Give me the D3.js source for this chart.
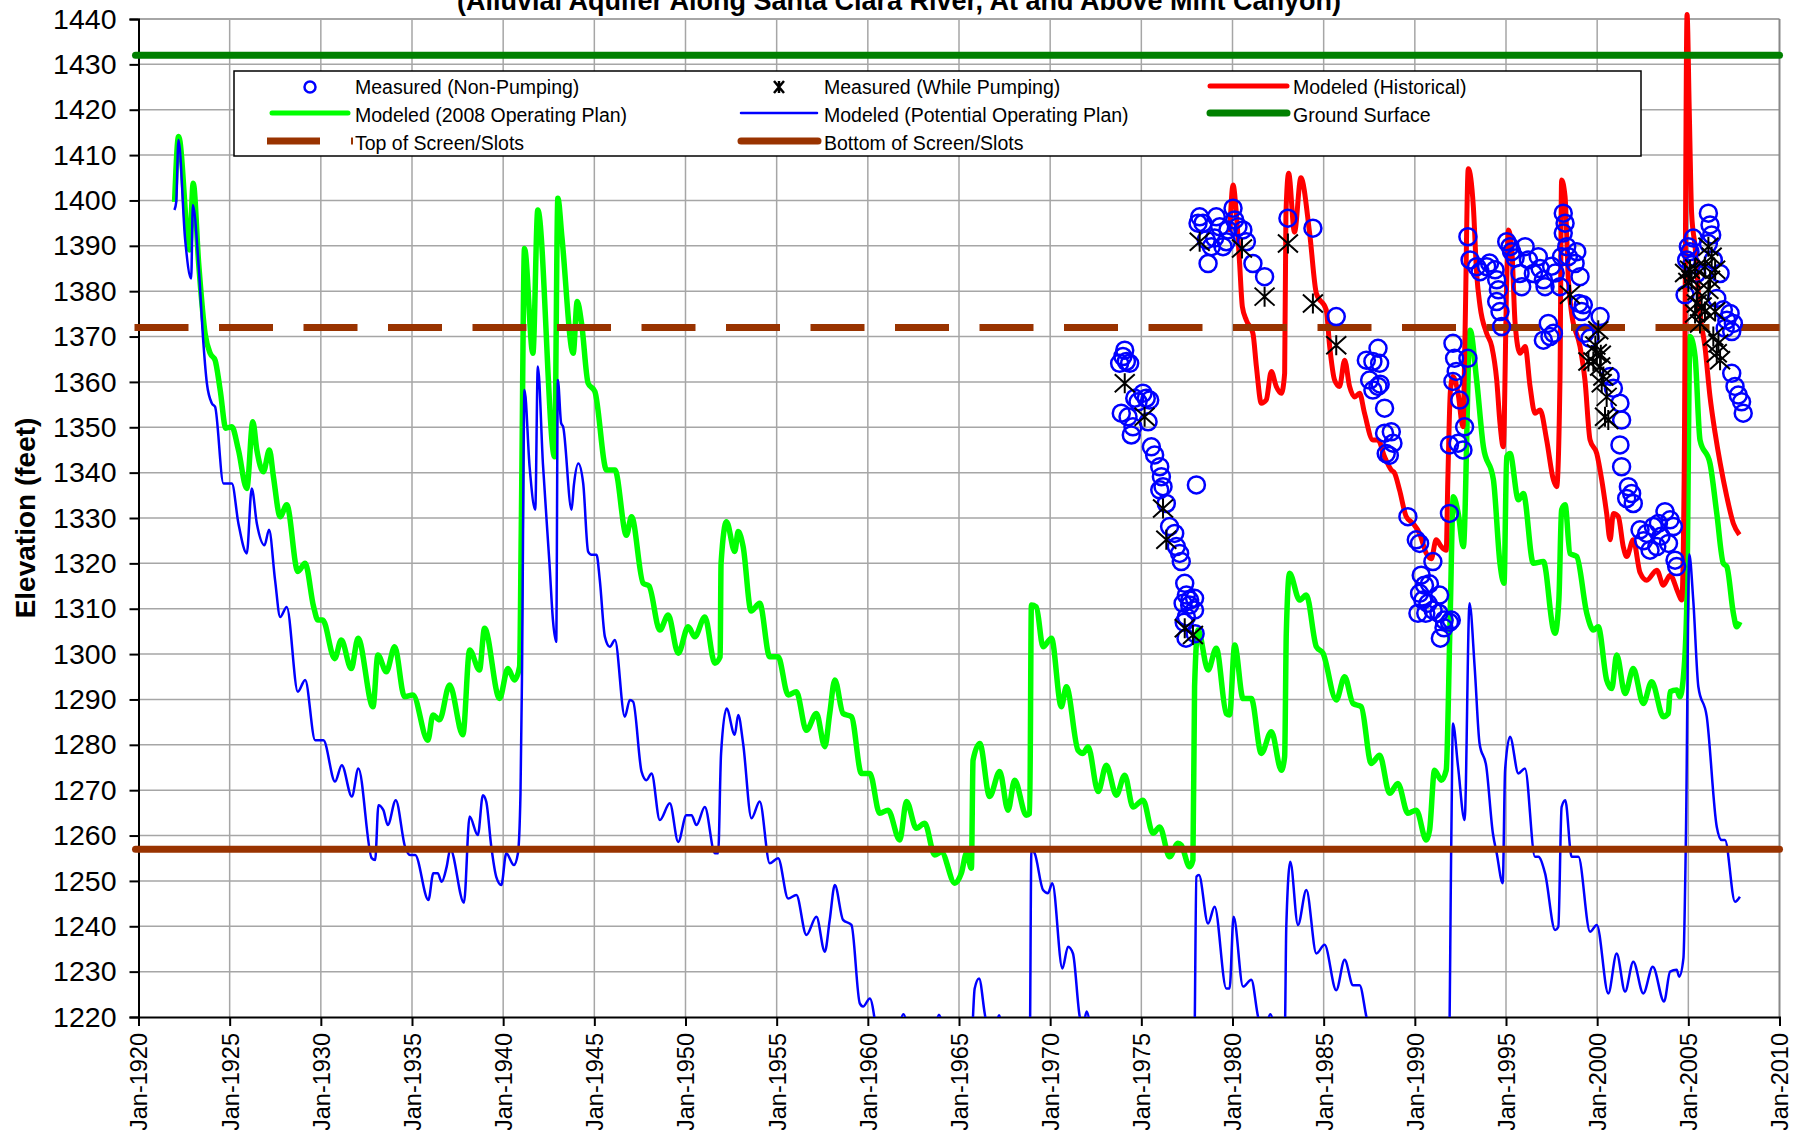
<!DOCTYPE html>
<html lang="en">
<head>
    <meta charset="UTF-8">
    <title>Elevation</title>
    <style>
        body { margin: 0; background: #fff; }
        text { font-family: Arial, "Liberation Sans", sans-serif; fill: #000; }
    </style>
</head>
<body>
    <script src="https://d3js.org/d3.v7.min.js"></script>
    <script>

        // levels (feet)
        var groundSurface = 1432,
            topOfScreen = 1372,
            bottomOfScreen = 1257;

        var yTicks = d3.range(1220, 1441, 10);
        var xTicks = d3.range(1920, 2011, 5);

        // Modeled (2008 Operating Plan): [decimal year, elevation]
        var plan2008 = [
            [1921.98,1399.7],[1922.2,1414.1],[1922.8,1389.1],[1923.0,1403.8],[1923.3,1386.1],[1923.65,1370.7],[1923.93,1366.3],[1924.2,1364.8],
            [1924.48,1358.2],[1924.79,1349.8],[1925.12,1350.1],[1925.48,1345],[1925.94,1336.5],[1926.27,1351.2],[1926.49,1345],[1926.85,1340.2],
            [1927.18,1345],[1927.4,1339.1],[1927.77,1330.3],[1928.13,1332.9],[1928.74,1318.2],[1929.14,1320],[1929.6,1310.5],[1929.84,1307.5],
            [1930.1,1307.5],[1930.76,1299.0],[1931.12,1303.1],[1931.67,1296.8],[1932.04,1303.5],[1932.86,1288.4],[1933.13,1299.8],[1933.59,1296.1],
            [1934.05,1301.6],[1934.59,1290.6],[1935.05,1291],[1935.87,1281.0],[1936.15,1286.6],[1936.51,1285.5],[1937.06,1293.2],[1937.79,1282.2],
            [1938.16,1300.9],[1938.7,1296.5],[1938.98,1305.7],[1939.8,1290.2],[1940.26,1296.8],[1940.62,1294.3],[1940.9,1297.2],[1941.0,1330],
            [1941.17,1389.4],[1941.63,1366.3],[1941.9,1397.9],[1942.82,1343.5],[1943.0,1400.5],[1943.22,1392],[1943.84,1366.3],[1944.06,1377.7],
            [1944.3,1372.9],[1944.66,1359.7],[1945.03,1357.9],[1945.67,1340.6],[1946.13,1340.6],[1946.76,1326.2],[1947.04,1330.3],[1947.68,1315.6],
            [1948.0,1315],[1948.59,1305.3],[1949.05,1308.6],[1949.6,1300.2],[1950.15,1306],[1950.51,1303.8],[1951.06,1308.2],[1951.61,1298],
            [1951.9,1299.4],[1951.95,1320],[1952.25,1329.2],[1952.7,1322.6],[1952.89,1327],[1953.16,1323.7],[1953.6,1309.5],[1954.07,1311.2],
            [1954.62,1299.4],[1955.08,1299.4],[1955.63,1291],[1956.08,1291.7],[1956.63,1283.2],[1957.18,1286.9],[1957.64,1279.6],[1957.91,1286.9],
            [1958.19,1294.3],[1958.64,1286.9],[1959.1,1286.2],[1959.65,1273.7],[1960.11,1273.7],[1960.65,1264.9],[1961.11,1265.6],[1961.75,1259],
            [1962.12,1267.5],[1962.66,1261.6],[1963.12,1262.7],[1963.67,1255.7],[1964.03,1256.4],[1964.77,1249.5],[1965.13,1251.7],[1965.41,1256.1],
            [1965.68,1252.8],[1965.77,1276.6],[1966.14,1280.3],[1966.68,1268.6],[1967.23,1274.1],[1967.69,1265.6],[1968.05,1272.2],[1968.69,1264.5],
            [1968.88,1264.9],[1968.97,1310.8],[1969.24,1310.4],[1969.61,1301.6],[1970.07,1303.5],[1970.61,1288.4],[1970.89,1292.8],[1971.53,1278.8],
            [1971.8,1278.1],[1972.08,1279.6],[1972.63,1269.7],[1973.08,1275.5],[1973.63,1268.9],[1974.09,1273.3],[1974.54,1266.3],[1975.09,1267.8],
            [1975.64,1260.5],[1976.01,1261.9],[1976.55,1255.3],[1977.01,1258.3],[1977.19,1257.9],[1977.65,1253.1],[1977.83,1254.6],[1977.92,1292.8],
            [1978.11,1305.3],[1978.66,1296.5],[1979.11,1301.3],[1979.66,1286.9],[1979.84,1286.6],[1980.12,1302],[1980.58,1290.2],[1981.03,1290.2],
            [1981.58,1278.1],[1982.13,1282.9],[1982.68,1274.4],[1982.86,1277.4],[1982.95,1304.6],[1983.13,1317.8],[1983.68,1311.9],[1984.05,1313],
            [1984.6,1301.6],[1984.96,1300.2],[1985.69,1289.9],[1986.15,1295],[1986.61,1289.1],[1987.06,1288.4],[1987.61,1275.9],[1988.07,1277.7],
            [1988.62,1269.3],[1989.07,1271.5],[1989.62,1264.9],[1990.08,1265.6],[1990.63,1259],[1990.81,1261.2],[1991.08,1274.4],[1991.45,1272.2],
            [1991.72,1274.4],[1991.93,1306.8],[1992.11,1334.7],[1992.38,1331],[1992.66,1323.7],[1993.03,1371.4],[1993.39,1360.4],[1993.76,1345.7],
            [1994.31,1338.4],[1994.67,1320],[1994.89,1315.6],[1995.04,1343.5],[1995.22,1344.2],[1995.68,1334],[1995.95,1335.4],[1996.5,1320],
            [1997.05,1320.4],[1997.6,1305.3],[1997.69,1304.6],[1997.9,1312],[1998.05,1331.8],[1998.24,1332.9],[1998.51,1322.2],[1998.88,1321.5],
            [1999.43,1309],[1999.79,1305.3],[2000.06,1306],[2000.52,1294.3],[2000.8,1292.4],[2001.07,1299.8],[2001.53,1291.3],[2001.98,1296.8],
            [2002.53,1289.1],[2002.99,1293.9],[2003.63,1286.2],[2003.9,1286.9],[2004.0,1291.7],[2004.36,1292.1],[2004.54,1290.6],[2004.73,1295],
            [2004.91,1310],[2005.09,1370],[2005.37,1365.6],[2005.64,1347.2],[2006.19,1342],[2006.56,1331],[2006.92,1320],[2007.11,1319.3],
            [2007.47,1309],[2007.65,1306],[2007.83,1307.1]
        ];

        // Modeled (Potential Operating Plan)
        var planPotential = [
            [1921.97,1397.9],[1922.07,1399.7],[1922.19,1413.3],[1922.56,1391.3],[1922.89,1382.8],[1922.98,1399],[1923.29,1386.1],[1923.56,1368.5],
            [1923.75,1359.7],[1924.02,1355.3],[1924.2,1354.5],[1924.66,1337.6],[1925.12,1337.6],[1925.48,1328.8],[1925.94,1322.2],[1926.21,1336.5],
            [1926.49,1328.8],[1926.91,1324],[1927.16,1327.4],[1927.49,1316.3],[1927.77,1308.2],[1928.13,1310.4],[1928.74,1291.7],[1929.14,1294.3],
            [1929.69,1281],[1930.14,1281],[1930.78,1271.9],[1931.15,1275.5],[1931.7,1268.6],[1932.06,1274.8],[1932.79,1255],[1932.98,1254.6],
            [1933.16,1266.7],[1933.43,1265.6],[1933.67,1262.3],[1934.11,1267.8],[1934.62,1257.5],[1934.89,1255.7],[1935.17,1255.7],[1935.9,1245.8],
            [1936.17,1251.7],[1936.41,1251.7],[1936.63,1249.8],[1936.9,1253.1],[1937.1,1257],[1937.85,1245.2],[1938.16,1264.2],[1938.61,1260.1],
            [1938.89,1268.9],[1939.07,1267.5],[1939.35,1257.5],[1939.62,1250.9],[1939.9,1249.1],[1940.17,1256.1],[1940.59,1253.5],[1940.81,1256.1],
            [1940.95,1269.3],[1941.03,1294.3],[1941.17,1358.2],[1941.45,1341.3],[1941.76,1331.8],[1941.9,1363.4],[1942.18,1342],[1942.54,1320],
            [1942.73,1307.5],[1942.91,1302.7],[1943.0,1360.4],[1943.18,1350.9],[1943.29,1350.1],[1943.75,1331.8],[1943.88,1337.3],[1944.12,1342],
            [1944.39,1337.6],[1944.66,1322.6],[1944.85,1321.9],[1945.12,1321.9],[1945.3,1316.3],[1945.58,1303.8],[1945.85,1301.6],[1946.13,1303.1],
            [1946.67,1286.2],[1946.95,1289.9],[1947.13,1289.5],[1947.59,1274.1],[1947.86,1272.2],[1948.14,1273.7],[1948.59,1263.4],[1949.14,1267.1],
            [1949.6,1258.6],[1950.05,1264.5],[1950.33,1264.5],[1950.6,1262.3],[1951.06,1266.3],[1951.61,1256.1],[1951.79,1256.1],[1951.95,1278],
            [1952.25,1288],[1952.7,1282.2],[1952.89,1286.6],[1953.16,1280.3],[1953.62,1263.8],[1954.07,1267.5],[1954.62,1253.9],[1955.08,1255],
            [1955.63,1246.1],[1956.08,1246.9],[1956.63,1238.1],[1957.18,1242.1],[1957.64,1234.4],[1957.91,1241.4],[1958.19,1249.1],[1958.64,1241.4],
            [1959.1,1240.3],[1959.56,1223],[1959.74,1222.3],[1960.11,1224.1],[1960.6,1214],[1961.3,1208],[1961.95,1220.6],[1962.5,1210],
            [1963.3,1206],[1963.9,1220.5],[1964.5,1208],[1965.2,1204],[1965.7,1215],[1965.86,1226.3],[1966.1,1228.5],[1966.41,1220.8],
            [1966.8,1212],[1967.2,1220.4],[1967.6,1210],[1968.1,1216],[1968.7,1206],[1968.88,1212],[1968.97,1256.8],[1969.15,1256.1],
            [1969.61,1248],[1969.88,1247.3],[1970.12,1249.5],[1970.67,1230.7],[1970.98,1235.5],[1971.25,1234],[1971.62,1220.1],[1971.8,1218],
            [1972.0,1221.2],[1972.5,1210],[1973.1,1214],[1973.6,1206],[1974.1,1212],[1974.6,1204],[1975.1,1208],[1975.7,1198],
            [1976.1,1202],[1976.6,1194],[1977.2,1198],[1977.8,1190],[1977.92,1215],[1978.02,1250.9],[1978.16,1251.3],[1978.66,1240.6],
            [1979.02,1244.3],[1979.66,1226.3],[1979.84,1226.3],[1980.06,1242.1],[1980.58,1226.7],[1981.03,1228.2],[1981.4,1220.1],[1981.7,1216],
            [1982.07,1220.6],[1982.6,1212],[1982.86,1214],[1982.95,1239.9],[1983.17,1254.2],[1983.59,1240.3],[1984.05,1248],[1984.6,1234],
            [1985.05,1235.9],[1985.69,1225.9],[1986.15,1232.6],[1986.61,1227],[1986.97,1227],[1987.34,1220.1],[1987.8,1212],[1988.3,1214],
            [1988.8,1205],[1989.3,1208],[1989.8,1200],[1990.3,1203],[1990.8,1196],[1991.3,1200],[1991.85,1205],[1992.0,1259],
            [1992.09,1284.7],[1992.37,1275.2],[1992.73,1263.4],[1993.0,1311.2],[1993.28,1297.2],[1993.55,1280.3],[1993.92,1275.2],[1994.28,1260.5],
            [1994.49,1256.1],[1994.82,1249.5],[1994.95,1274.4],[1995.22,1281.8],[1995.68,1273.7],[1996.04,1274.8],[1996.59,1255.3],[1996.77,1255.3],
            [1997.14,1251.7],[1997.69,1239.2],[1997.87,1239.9],[1998.05,1266.3],[1998.25,1267.8],[1998.6,1255.3],[1998.97,1255.3],[1999.61,1238.8],
            [1999.98,1240.3],[2000.61,1225.2],[2001.07,1234],[2001.53,1225.6],[2001.98,1232.2],[2002.53,1225.2],[2003.05,1231.1],[2003.67,1223.4],
            [2004.0,1230],[2004.36,1230.4],[2004.5,1228.9],[2004.73,1232.9],[2004.87,1260.5],[2005.05,1322],[2005.27,1311.9],[2005.55,1292.8],
            [2006.01,1286.2],[2006.56,1261.9],[2006.83,1259],[2007.01,1259],[2007.56,1245.4],[2007.83,1246.5]
        ];

        // Modeled (Historical)
        var historical = [
            [1979.85,1393],[1980.03,1403.4],[1980.21,1397.2],[1980.39,1386.1],[1980.54,1376.6],[1980.76,1373.6],[1981.12,1370.7],[1981.31,1363.4],
            [1981.58,1355.3],[1981.85,1356],[1982.13,1362.3],[1982.4,1359],[1982.68,1357.5],[1982.86,1361.9],[1982.93,1397],[1983.08,1406],
            [1983.4,1393],[1983.75,1405],[1984.23,1392.8],[1984.6,1379.5],[1985.14,1375.9],[1985.33,1367.8],[1985.6,1360.4],[1985.87,1359],
            [1986.15,1364.8],[1986.42,1359],[1986.7,1356.7],[1986.97,1357.5],[1987.24,1353.1],[1987.7,1347.2],[1987.98,1347.2],[1988.34,1343.5],
            [1988.71,1340.6],[1988.89,1339.9],[1989.16,1336.2],[1989.53,1330.3],[1989.9,1328.8],[1990.26,1326.6],[1990.63,1322.2],[1990.9,1321],
            [1991.17,1325.2],[1991.45,1323.7],[1991.72,1322.9],[1991.81,1338.4],[1991.95,1358],[1992.09,1361.2],[1992.37,1357.5],[1992.64,1350.1],
            [1992.75,1370],[1992.93,1407],[1993.21,1398.6],[1993.39,1383.9],[1993.58,1376.6],[1993.94,1370.7],[1994.22,1367.8],[1994.49,1360.4],
            [1994.67,1350.9],[1994.85,1345.7],[1995.04,1382.5],[1995.13,1393.5],[1995.31,1389.8],[1995.5,1372.9],[1995.77,1366.3],[1996.05,1367.8],
            [1996.32,1359],[1996.59,1353.1],[1996.87,1353.8],[1997.23,1347.2],[1997.6,1338.4],[1997.78,1336.9],[1997.96,1360.4],[1998.05,1404.5],
            [1998.24,1400.8],[1998.42,1382.5],[1998.6,1375.1],[1999.06,1367.8],[1999.33,1360.4],[1999.61,1347.2],[1999.98,1344.2],[2000.25,1338.4],
            [2000.52,1331],[2000.71,1325.2],[2000.89,1331],[2001.16,1330.3],[2001.43,1323.7],[2001.62,1321.5],[2001.98,1325.2],[2002.35,1318],
            [2002.72,1316.3],[2003.27,1318.5],[2003.63,1315.2],[2004.0,1317.4],[2004.45,1313.4],[2004.64,1311.9],[2004.77,1338.4],[2004.93,1441],
            [2005.05,1420],[2005.18,1397.2],[2005.37,1389.8],[2005.64,1375.1],[2005.91,1367.8],[2006.19,1356.7],[2006.47,1348.7],[2006.75,1342],
            [2007.11,1334.7],[2007.47,1328.8],[2007.8,1326.3]
        ];

        // Measured (Non-Pumping)
        var measuredNonPumping = [
            [1974.09,1367.0],[1973.99,1365.6],[1974.18,1364.5],[1973.81,1364.1],[1974.36,1364.1],[1975.09,1357.5],[1975.27,1356.4],[1974.64,1356.4],
            [1974.82,1355.6],[1975.46,1356.0],[1973.9,1353.1],[1974.27,1352.3],[1974.54,1350.1],[1974.45,1348.3],[1975.37,1351.2],[1975.55,1345.7],
            [1975.73,1343.9],[1976.01,1341.3],[1976.1,1339.1],[1976.19,1336.9],[1976.01,1336.2],[1976.37,1333.2],[1976.55,1328.1],[1976.83,1326.6],
            [1976.92,1323.7],[1977.1,1322.2],[1977.19,1320.4],[1977.38,1315.6],[1977.47,1313.0],[1977.65,1311.9],[1977.92,1312.3],[1977.29,1311.2],
            [1978.02,1337.3],[1977.65,1310.8],[1977.92,1309.7],[1977.47,1308.2],[1977.35,1307],[1977.95,1304.5],[1977.45,1303.5],
            [1978.2,1396.4],[1978.38,1395],[1978.11,1395],[1978.56,1391.3],[1978.84,1389.8],[1978.66,1386.1],[1979.11,1396.4],[1979.3,1394.2],
            [1979.48,1389.8],[1979.75,1393.5],[1980.03,1398.3],[1980.12,1395.7],[1980.3,1394.2],[1980.57,1393.5],[1980.76,1390.9],[1981.12,1386.1],
            [1981.76,1383.2],[1983.04,1396.1],[1984.41,1393.9],[1985.69,1374.4],[1979.66,1390.9],[1979.02,1391.7],
            [1987.98,1367.4],[1987.34,1364.8],[1988.07,1364.1],[1987.7,1364.5],[1987.52,1360.4],[1987.98,1359],[1988.1,1359.5],[1987.7,1358.2],
            [1988.34,1354.2],[1988.34,1348.7],[1988.71,1349],[1988.8,1346.5],[1988.43,1344.2],[1988.6,1343.8],
            [1989.62,1330.3],[1990.08,1325.2],[1990.26,1324.4],[1990.99,1320.4],[1990.35,1317.4],[1990.53,1315.2],[1990.8,1315.5],[1990.26,1313.4],
            [1990.44,1311.9],[1990.72,1311.2],[1991.36,1313],[1990.17,1309],[1990.6,1309],[1991.0,1309.7],[1991.32,1309],[1991.61,1307.5],
            [1991.9,1307],[1991.6,1305.8],[1991.4,1303.5],[1992.0,1307.5],
            [1992.09,1368.5],[1992.18,1365.2],[1992.27,1362.3],[1992.09,1360.1],[1992.46,1356],[1992.73,1350.1],[1991.9,1346.1],[1992.37,1346.5],
            [1992.64,1345],[1991.9,1331],[1992.91,1365.2],[1992.91,1392],
            [1993.03,1386.9],[1993.39,1385.4],[1993.58,1384.3],[1993.94,1385.4],[1994.1,1386.2],[1994.4,1384.7],[1994.49,1382.5],[1994.58,1380.3],
            [1994.49,1377.7],[1994.67,1375.5],[1994.76,1372.2],[1995.04,1390.9],[1995.22,1389.8],[1995.31,1388.7],[1995.5,1387.3],[1995.77,1383.9],
            [1995.86,1381],[1996.05,1389.8],[1996.23,1386.9],[1996.5,1383.9],[1996.77,1387.6],[1996.87,1385],[1997.05,1382.5],[1997.14,1381],
            [1997.96,1381],[1997.32,1372.9],[1997.41,1370],[1997.05,1369.2],[1997.6,1370.7],[1997.7,1384],[1997.5,1385.5],
            [1998.14,1397.2],[1998.24,1395],[1998.14,1392.8],[1998.33,1389.8],[1998.42,1387.6],[1998.05,1387.6],[1998.88,1388.7],[1998.79,1386.1],
            [1999.06,1383.2],[1999.0,1377.3],[1999.24,1377],[1999.15,1375.5],[1999.33,1370.7],[1999.61,1369.6],[2000.16,1374.4],[2000.71,1361.2],
            [2000.89,1358.6],[2001.25,1355.3],[2001.34,1351.6],[2001.25,1346.1],[2001.34,1341.3],[2001.71,1336.9],[2001.89,1335.4],[2001.98,1333.2],
            [2001.62,1334.3],[2002.35,1327.4],[2002.72,1326.6],[2003.08,1328.1],[2003.36,1328.8],[2003.72,1331.4],[2004.0,1329.6],[2004.18,1328.1],
            [2003.27,1323.7],[2002.9,1322.9],[2003.91,1324.4],[2004.27,1320.7],[2004.36,1319.3],[2002.55,1325],[2003.5,1326],
            [2006.1,1397.2],[2006.19,1394.6],[2006.28,1392.4],[2006.1,1390.5],[2005.27,1391.7],[2005.0,1389.8],[2005.09,1388.7],[2004.91,1386.9],
            [2005.18,1385.8],[2005.46,1383.9],[2004.82,1379.2],[2006.56,1378.4],[2006.92,1375.9],[2007.29,1375.1],[2007.11,1373.6],[2007.47,1372.9],
            [2007.38,1371.1],[2007.02,1371.8],[2007.38,1361.9],[2007.56,1359],[2007.74,1357.1],[2007.92,1355.6],[2008.01,1353.1],[2006.37,1386.9],
            [2006.74,1383.9]
        ];

        // Measured (While Pumping)
        var measuredPumping = [
            [1974.09,1359.7],[1975.18,1352.3],[1976.19,1332.1],[1976.37,1325.2],[1977.38,1305.7],[1977.83,1304.2],
            [1978.2,1390.9],[1980.52,1389.4],[1981.76,1378.8],[1983.04,1390.5],[1984.41,1377.3],[1985.69,1368.1],
            [1998.51,1379.2],[2000.06,1371.4],[1999.98,1366.3],[1999.79,1364.5],[2000.16,1363.4],[2000.34,1361.2],[2000.25,1359.7],[2000.52,1356.7],
            [2000.43,1352.3],[2000.61,1351.6],[1999.52,1364.5],[1999.9,1368],[2000.2,1366],
            [2005.09,1384.7],[2004.82,1384],[2005.37,1385],[2005.18,1382.5],[2006.1,1389.8],[2006.28,1387.6],[2005.91,1385.4],[2006.47,1384.7],
            [2006.19,1382.5],[2005.46,1377.3],[2005.73,1376.6],[2005.37,1375.1],[2005.91,1375.5],[2006.47,1375.5],[2005.64,1372.9],[2006.37,1370],
            [2006.65,1368.5],[2006.56,1366.3],[2006.74,1364.8],[2006.1,1380.3],[2005.0,1382],[2005.5,1380]
        ];

        var width = 1803,
            height = 1130;

        var x = d3.scaleLinear()
            .domain([1920, 2010])
            .range([138.5, 1779.5]);

        var y = d3.scaleLinear()
            .domain([1220, 1440])
            .range([1017, 19]);

        var svg = d3.select("body").append("svg")
            .attr("width", width)
            .attr("height", height);

        svg.append("defs").append("clipPath")
            .attr("id", "plot-clip")
            .append("rect")
            .attr("x", x(1920))
            .attr("y", 8)
            .attr("width", x(2010) - x(1920) + 4)
            .attr("height", y(1220) - 8);

        // title (mostly cut off at the top of the page)
        svg.append("text")
            .attr("x", 899)
            .attr("y", 10)
            .attr("text-anchor", "middle")
            .style("font-size", "27px")
            .style("font-weight", "bold")
            .text("(Alluvial Aquifer Along Santa Clara River, At and Above Mint Canyon)");

        // grid
        svg.append("g").selectAll("line")
            .data(yTicks.filter(function(d) { return d > 1220; }))
            .enter().append("line")
            .attr("x1", x(1920))
            .attr("x2", x(2010))
            .attr("y1", function(d) { return y(d); })
            .attr("y2", function(d) { return y(d); })
            .attr("stroke", function(d) { return d === 1440 ? "#888" : "#a6a6a6"; })
            .attr("stroke-width", 1.5);

        svg.append("g").selectAll("line")
            .data(xTicks.filter(function(d) { return d > 1920; }))
            .enter().append("line")
            .attr("x1", function(d) { return x(d); })
            .attr("x2", function(d) { return x(d); })
            .attr("y1", y(1440))
            .attr("y2", y(1220))
            .attr("stroke", function(d) { return d === 2010 ? "#888" : "#a6a6a6"; })
            .attr("stroke-width", function(d) { return d === 2010 ? 2 : 1.5; });

        // axes
        var yAxis = svg.append("g")
            .attr("transform", "translate(" + x(1920) + ",0)")
            .call(d3.axisLeft(y).tickValues(yTicks).tickSize(9).tickPadding(13).tickFormat(d3.format("d")));

        var xAxis = svg.append("g")
            .attr("transform", "translate(0," + y(1220) + ")")
            .call(d3.axisBottom(x).tickValues(xTicks).tickSize(9).tickFormat(function(d) { return "Jan-" + d; }));

        [yAxis, xAxis].forEach(function(g) {
            g.select(".domain").attr("stroke", "#000").attr("stroke-width", 2);
            g.selectAll(".tick line").attr("stroke", "#000").attr("stroke-width", 2);
            g.selectAll(".tick text").attr("fill", "#000").style("font-family", "Arial, 'Liberation Sans', sans-serif");
        });

        yAxis.selectAll(".tick text").style("font-size", "28.5px");

        xAxis.selectAll(".tick text")
            .style("font-size", "23.5px")
            .attr("transform", "rotate(-90)")
            .attr("x", -16)
            .attr("y", 0)
            .attr("dy", "0.36em")
            .style("text-anchor", "end");

        svg.append("text")
            .attr("transform", "translate(25,518) rotate(-90)")
            .attr("text-anchor", "middle")
            .attr("dominant-baseline", "central")
            .style("font-size", "28px")
            .style("font-weight", "bold")
            .text("Elevation (feet)");

        var plot = svg.append("g").attr("clip-path", "url(#plot-clip)");

        var line = d3.line()
            .x(function(d) { return x(d[0]); })
            .y(function(d) { return y(d[1]); })
            .curve(d3.curveMonotoneX);

        plot.append("path")
            .datum(plan2008)
            .attr("d", line)
            .attr("fill", "none")
            .attr("stroke", "#00ff00")
            .attr("stroke-width", 5.5)
            .attr("stroke-linejoin", "round");

        plot.append("path")
            .datum(planPotential)
            .attr("d", line)
            .attr("fill", "none")
            .attr("stroke", "#0000ff")
            .attr("stroke-width", 2.5)
            .attr("stroke-linejoin", "round");

        // reference levels
        svg.append("line")
            .attr("x1", x(1920) - 3).attr("x2", x(2010))
            .attr("y1", y(groundSurface)).attr("y2", y(groundSurface))
            .attr("stroke", "#008000")
            .attr("stroke-width", 7)
            .attr("stroke-linecap", "round");

        svg.append("line")
            .attr("x1", x(1920) - 4).attr("x2", x(2010))
            .attr("y1", y(topOfScreen)).attr("y2", y(topOfScreen))
            .attr("stroke", "#993300")
            .attr("stroke-width", 7)
            .attr("stroke-dasharray", "54,30.5");

        svg.append("line")
            .attr("x1", x(1920) - 3).attr("x2", x(2010))
            .attr("y1", y(bottomOfScreen)).attr("y2", y(bottomOfScreen))
            .attr("stroke", "#993300")
            .attr("stroke-width", 7)
            .attr("stroke-linecap", "round");

        plot.append("path")
            .datum(historical)
            .attr("d", line)
            .attr("fill", "none")
            .attr("stroke", "#ff0000")
            .attr("stroke-width", 5)
            .attr("stroke-linejoin", "round");

        // measured points
        svg.append("g").selectAll("circle")
            .data(measuredNonPumping)
            .enter().append("circle")
            .attr("cx", function(d) { return x(d[0]); })
            .attr("cy", function(d) { return y(d[1]); })
            .attr("r", 8.5)
            .attr("fill", "none")
            .attr("stroke", "#0000ff")
            .attr("stroke-width", 2.5);

        var asterisk = "M-10,-9L10,9M-10,9L10,-9M0,-10L0,10";

        svg.append("g").selectAll("path")
            .data(measuredPumping)
            .enter().append("path")
            .attr("transform", function(d) { return "translate(" + x(d[0]) + "," + y(d[1]) + ")"; })
            .attr("d", asterisk)
            .attr("fill", "none")
            .attr("stroke", "#000")
            .attr("stroke-width", 2);

        // legend
        var legend = svg.append("g");

        legend.append("rect")
            .attr("x", 234)
            .attr("y", 71)
            .attr("width", 1407)
            .attr("height", 85)
            .attr("fill", "#fff")
            .attr("stroke", "#000")
            .attr("stroke-width", 1.5);

        var rowY = [87, 115, 143],
            colText = [355, 824, 1293];

        var entries = [
            { label: "Measured (Non-Pumping)", col: 0, row: 0 },
            { label: "Measured (While Pumping)", col: 1, row: 0 },
            { label: "Modeled (Historical)", col: 2, row: 0 },
            { label: "Modeled (2008 Operating Plan)", col: 0, row: 1 },
            { label: "Modeled (Potential Operating Plan)", col: 1, row: 1 },
            { label: "Ground Surface", col: 2, row: 1 },
            { label: "Top of Screen/Slots", col: 0, row: 2 },
            { label: "Bottom of Screen/Slots", col: 1, row: 2 }
        ];

        legend.selectAll("text.label")
            .data(entries)
            .enter().append("text")
            .attr("class", "label")
            .attr("x", function(d) { return colText[d.col]; })
            .attr("y", function(d) { return rowY[d.row]; })
            .attr("dominant-baseline", "central")
            .style("font-size", "19.5px")
            .text(function(d) { return d.label; });

        legend.append("circle")
            .attr("cx", 310).attr("cy", rowY[0])
            .attr("r", 5.5)
            .attr("fill", "none")
            .attr("stroke", "#0000ff")
            .attr("stroke-width", 2.5);

        legend.append("path")
            .attr("transform", "translate(779," + rowY[0] + ")")
            .attr("d", "M-5,-6L5,6M-5,6L5,-6M0,-6L0,6")
            .attr("fill", "none")
            .attr("stroke", "#000")
            .attr("stroke-width", 2.5);

        function sample(x1, x2, yy, color, w, cap) {
            legend.append("line")
                .attr("x1", x1).attr("x2", x2)
                .attr("y1", yy).attr("y2", yy)
                .attr("stroke", color)
                .attr("stroke-width", w)
                .attr("stroke-linecap", cap);
        }

        sample(1210, 1287, rowY[0] - 1, "#ff0000", 5, "round");
        sample(272, 348, rowY[1] - 2, "#00ff00", 5, "round");
        sample(741, 817, rowY[1] - 2, "#0000ff", 2.5, "round");
        sample(1210, 1287, rowY[1] - 2, "#008000", 7, "round");
        sample(267, 320, rowY[2] - 2, "#993300", 7, "butt");
        sample(351, 353, rowY[2] - 2, "#993300", 7, "butt");
        sample(741, 818, rowY[2] - 2, "#993300", 7, "round");

    </script>
</body>
</html>
